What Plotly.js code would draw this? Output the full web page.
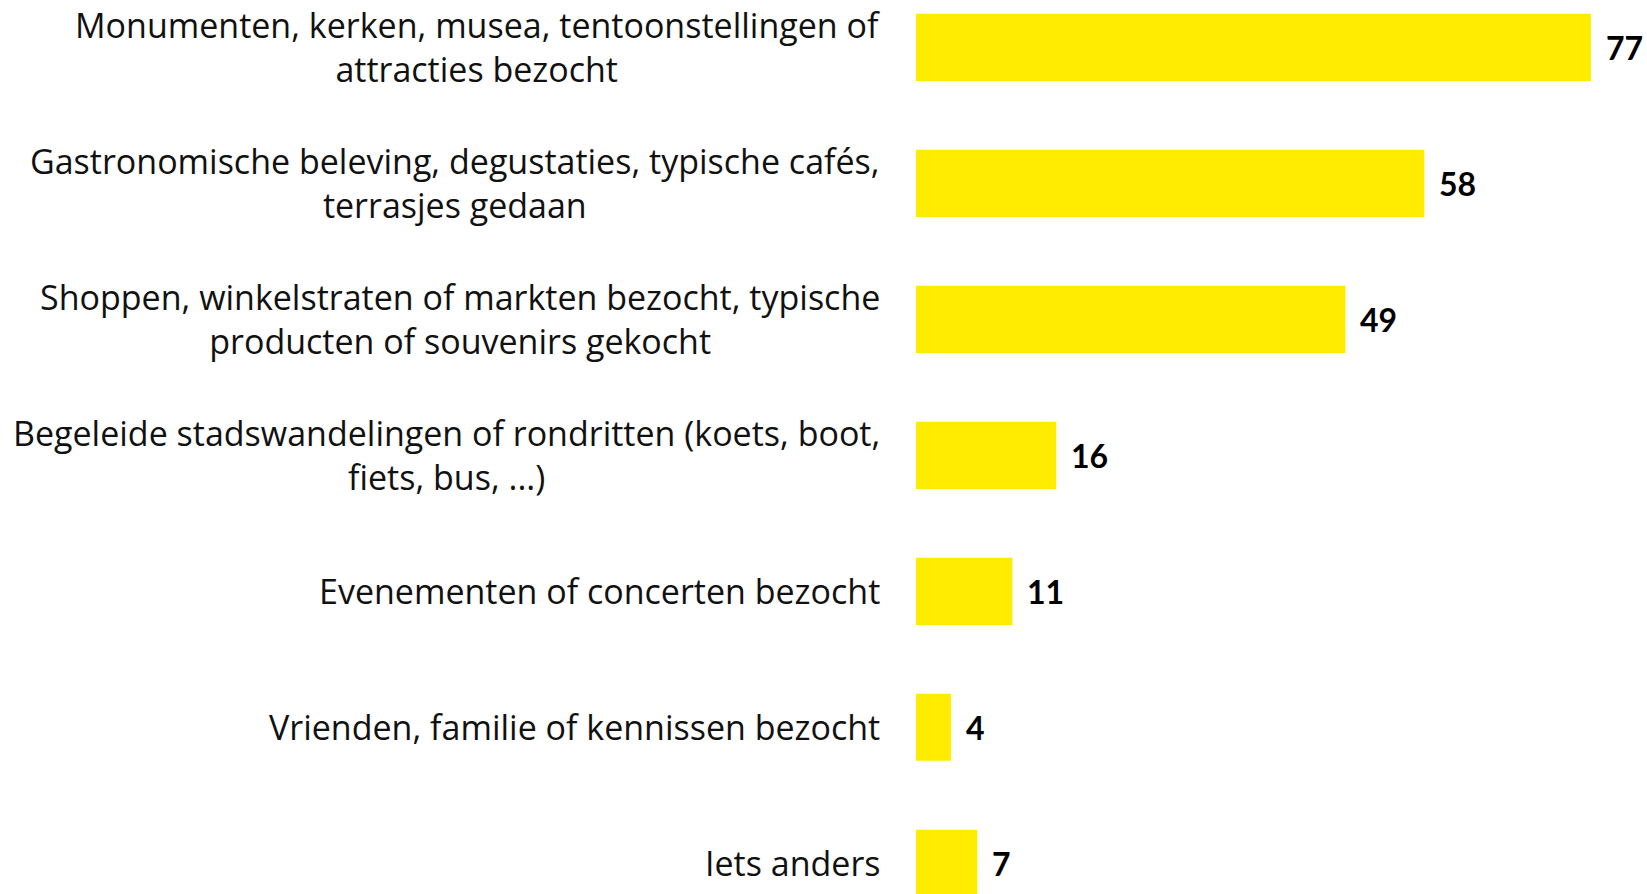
<!DOCTYPE html>
<html>
<head>
<meta charset="utf-8">
<script src="https://cdn.plot.ly/plotly-3.0.1.min.js"></script>
<style>html,body{margin:0;padding:0;background:#fff;}#chart{width:1647px;height:894px;}</style>
</head>
<body>
<div id="chart"></div>
<script>
const categories = [
  "Monumenten, kerken, musea, tentoonstellingen of<br>attracties bezocht",
  "Gastronomische beleving, degustaties, typische cafés,<br>terrasjes gedaan",
  "Shoppen, winkelstraten of markten bezocht, typische<br>producten of souvenirs gekocht",
  "Begeleide stadswandelingen of rondritten (koets, boot,<br>fiets, bus, ...)",
  "Evenementen of concerten bezocht",
  "Vrienden, familie of kennissen bezocht",
  "Iets anders"
];
const values = [77, 58, 49, 16, 11, 4, 7];
const valueLabels = ["77", "58", "49", "16", "11", "4", "7"];

const LABEL_FONT = "'Open Sans', 'Noto Sans', sans-serif";
const VALUE_FONT = "Lato, 'Open Sans', sans-serif";
const ids = categories.map((c, i) => "c" + i);

const trace = {
  type: "bar",
  orientation: "h",
  x: values,
  y: ids,
  marker: { color: "#FFEC00" },
  hoverinfo: "skip"
};

const annotations = [];
categories.forEach((c, i) => {
  annotations.push({
    xref: "paper", yref: "y", x: 0, y: ids[i],
    xanchor: "right", yanchor: "middle", xshift: -34,
    align: "center", showarrow: false, text: c,
    font: { family: LABEL_FONT, size: 34, color: "#111" }
  });
  annotations.push({
    xref: "x", yref: "y", x: values[i], y: ids[i],
    xanchor: "left", yanchor: "middle", xshift: 13,
    showarrow: false, text: valueLabels[i],
    font: { family: VALUE_FONT, size: 32, color: "#000", weight: "bold" }
  });
});

const layout = {
  width: 1647, height: 894,
  margin: { l: 916, r: 0, t: 0, b: 0, pad: 0 },
  paper_bgcolor: "#fff", plot_bgcolor: "#fff",
  bargap: 0.506,
  showlegend: false,
  xaxis: { range: [0, 83.4], visible: false, fixedrange: true },
  yaxis: { type: "category", categoryorder: "array", categoryarray: ids,
           range: [6.226, -0.348], visible: false, fixedrange: true },
  annotations: annotations
};

Plotly.newPlot("chart", [trace], layout, { staticPlot: true, displayModeBar: false });
</script>
</body>
</html>
